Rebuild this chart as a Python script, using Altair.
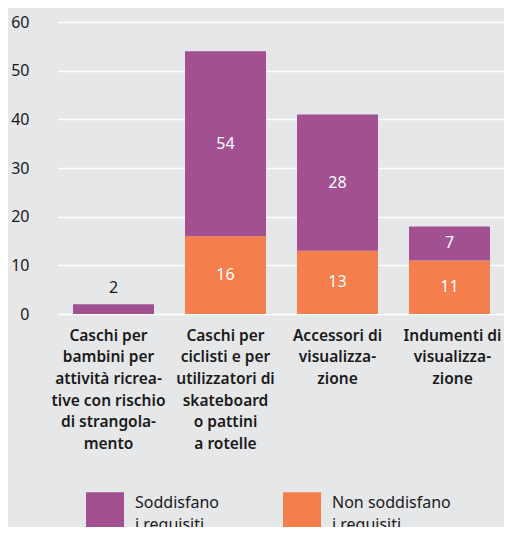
import altair as alt
import pandas as pd

categories = [
    "Caschi per|bambini per|attività ricrea-|tive con rischio|di strangola-|mento",
    "Caschi per|ciclisti e per|utilizzatori di|skateboard|o pattini|a rotelle",
    "Accessori di|visualizza-|zione",
    "Indumenti di|visualizza-|zione",
]
series = ["Soddisfano|i requisiti", "Non soddisfano|i requisiti"]
colors = ["#a15091", "#f47e4c"]

# segment heights as drawn, and the labels printed on them
soddisfano = [2, 38, 28, 7]
soddisfano_labels = ["2", "54", "28", "7"]
non_soddisfano = [0, 16, 13, 11]
non_soddisfano_labels = ["", "16", "13", "11"]

y_ticks = [0, 10, 20, 30, 40, 50, 60]

rows = []
for i, cat in enumerate(categories):
    if non_soddisfano[i] > 0:
        rows.append(dict(cat=cat, serie=series[1], start=0, end=non_soddisfano[i],
                         label=non_soddisfano_labels[i]))
    rows.append(dict(cat=cat, serie=series[0], start=non_soddisfano[i],
                     end=non_soddisfano[i] + soddisfano[i], label=soddisfano_labels[i]))
df = pd.DataFrame(rows)
df["mid"] = (df["start"] + df["end"]) / 2
df["inside"] = (df["end"] - df["start"]) >= 5

FONT = "Noto Sans"

xscale = alt.Scale(domain=categories, range=[20.5, 468.5], paddingInner=0.2768, paddingOuter=0.1384)
x = alt.X("cat:N", sort=categories, scale=xscale,
          axis=alt.Axis(labelExpr="split(datum.label, '|')", labelAngle=0, labelFontSize=15.5,
                        labelFontWeight=600, labelLineHeight=21.7, labelPadding=14,
                        labelBaseline="top", labelLimit=0, domain=False, ticks=False,
                        labelOffset={"expr": "indexof(datum.value, 'bambini') > 0 ? -5 : (indexof(datum.value, 'Indumenti') === 0 ? 3 : 0)"},
                        title=None, labelColor="#1a1a1a", labelFont=FONT))

bars = alt.Chart(df).mark_bar().encode(
    x=x,
    y=alt.Y("start:Q", scale=alt.Scale(domain=[0, 60], nice=False),
            axis=alt.Axis(values=y_ticks, grid=True, gridColor="white", gridWidth=1.5,
                          domain=False, ticks=False, labelFontSize=16, labelColor="#1a1a1a",
                          labelPadding=8, title=None, labelFont=FONT)),
    y2="end:Q",
    color=alt.Color("serie:N", scale=alt.Scale(domain=series, range=colors),
                    legend=alt.Legend(title=None, orient="none", legendX=49, legendY=470,
                                      direction="horizontal", symbolType="square",
                                      symbolSize=1444, symbolStrokeWidth=0, symbolOpacity=1,
                                      labelExpr="split(datum.label, '|')", labelFontSize=16,
                                      labelOffset=11, columnPadding=64, labelBaseline="bottom",
                                      labelFont=FONT, labelColor="#1a1a1a", padding=0,
                                      labelLimit=0)),
)

inside = alt.Chart(df).transform_filter("datum.inside").mark_text(
    color="white", fontSize=16, font=FONT, baseline="middle"
).encode(x=alt.X("cat:N", sort=categories, scale=xscale), y="mid:Q", text="label:N")

outside = alt.Chart(df).transform_filter("!datum.inside").mark_text(
    color="#1a1a1a", fontSize=16, font=FONT, baseline="middle", dy=-16
).encode(x=alt.X("cat:N", sort=categories, scale=xscale), y="end:Q", text="label:N")

chart = alt.layer(bars, inside, outside).properties(
    width=451, height=292, background="#e6e7e9",
    autosize=alt.AutoSizeParams(type="none"),
    padding={"left": 29, "top": 14, "right": 16, "bottom": 213},
).configure_view(stroke=None)
chart.config.style = {"guide-label": {"lineHeight": 21.7}}

chart.save("out.html", embed_options={"renderer": "svg", "actions": False})
